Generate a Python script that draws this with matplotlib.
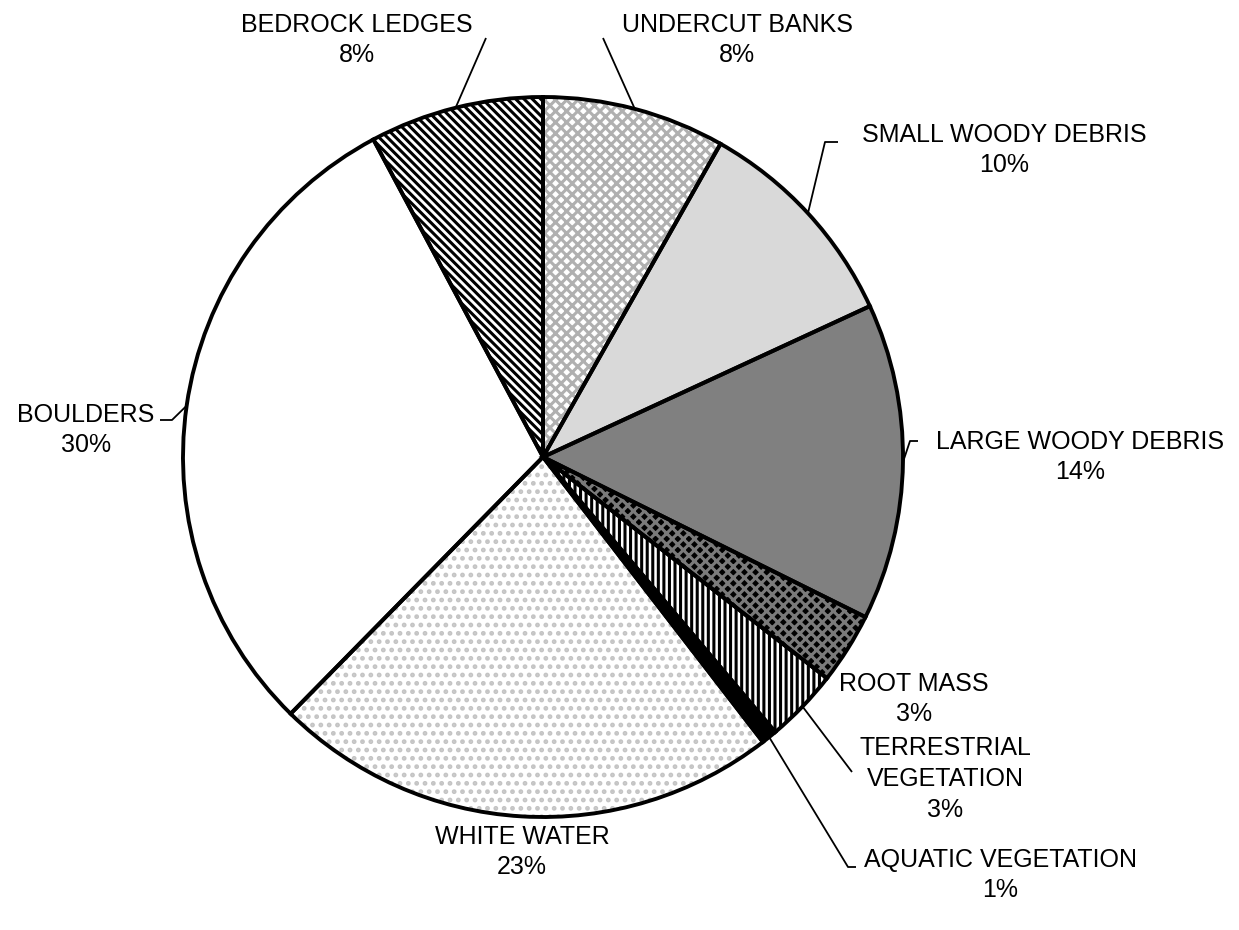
import numpy as np
import matplotlib
matplotlib.use("Agg")
import matplotlib.pyplot as plt

plt.rcParams['font.family'] = ['Liberation Sans', 'DejaVu Sans']
plt.rcParams['hatch.linewidth'] = 2.2

# habitat cover, clockwise from 12 o'clock
labels = ["UNDERCUT BANKS", "SMALL WOODY DEBRIS", "LARGE WOODY DEBRIS", "ROOT MASS",
          "TERRESTRIAL\nVEGETATION", "AQUATIC VEGETATION", "WHITE WATER", "BOULDERS",
          "BEDROCK LEDGES"]
values = [8.2, 9.9, 14.2, 3.2, 3.3, 0.7, 22.8, 29.8, 7.8]

faces = ["white", "#d9d9d9", "#808080", "black", "white", "black", "white", "white", "white"]
hatches = ["xxx", None, None, "xxx", "|||", None, "..", None, "\\\\\\\\"]
hatch_cols = ["#b0b0b0", "none", "none", "#7a7a7a", "black", "none", "#c4c4c4", "none", "black"]

# label placement (pixel space, y downward) and leader line waypoints
label_pos = [(737, 40), (1004, 150), (1080, 457), (914, 699), (945, 779),
             (1000, 875), (522, 852), (86, 430), (357, 40)]
leaders = [[(603, 38)], [(825, 142), (838, 142)], [(910, 441), (918, 441)], None,
           [(852, 772)], [(848, 867), (856, 867)], None, [(172, 420), (160, 420)],
           [(486, 38)]]

W, H = 1239, 930
cx, cy, r = 543, 457, 360

fig = plt.figure(figsize=(W / 100, H / 100), dpi=100)
ax = fig.add_axes([0, 0, 1, 1])

center = (cx, H - cy)
# fill + hatch layer
wedges, _ = ax.pie(values, startangle=90, counterclock=False, radius=r, center=center,
                   colors=faces, frame=True, wedgeprops=dict(linewidth=0))
for w, h, hc in zip(wedges, hatches, hatch_cols):
    if h:
        w.set_hatch(h)
        w.set_edgecolor(hc)
# outline layer
outl, _ = ax.pie(values, startangle=90, counterclock=False, radius=r, center=center,
                 colors=["none"] * len(values), frame=True,
                 wedgeprops=dict(linewidth=2.8, edgecolor="black", fill=False))
ax.set_xlim(0, W)
ax.set_ylim(0, H)
ax.set_aspect('equal')
ax.axis('off')

total = sum(values)
for w, lab, v, (tx, ty), path in zip(outl, labels, values, label_pos, leaders):
    ax.text(tx, H - ty, f"{lab}\n{v / total * 100:.0f}%", ha='center', va='center',
            fontsize=18, linespacing=1.35)
    if path:
        mid = np.deg2rad((w.theta1 + w.theta2) / 2)
        pts = [(cx + r * np.cos(mid), H - cy + r * np.sin(mid))] + [(x, H - y) for x, y in path]
        xs, ys = zip(*pts)
        ax.plot(xs, ys, color='black', linewidth=1.3, solid_capstyle='butt')

fig.savefig("out.png", dpi=100)
